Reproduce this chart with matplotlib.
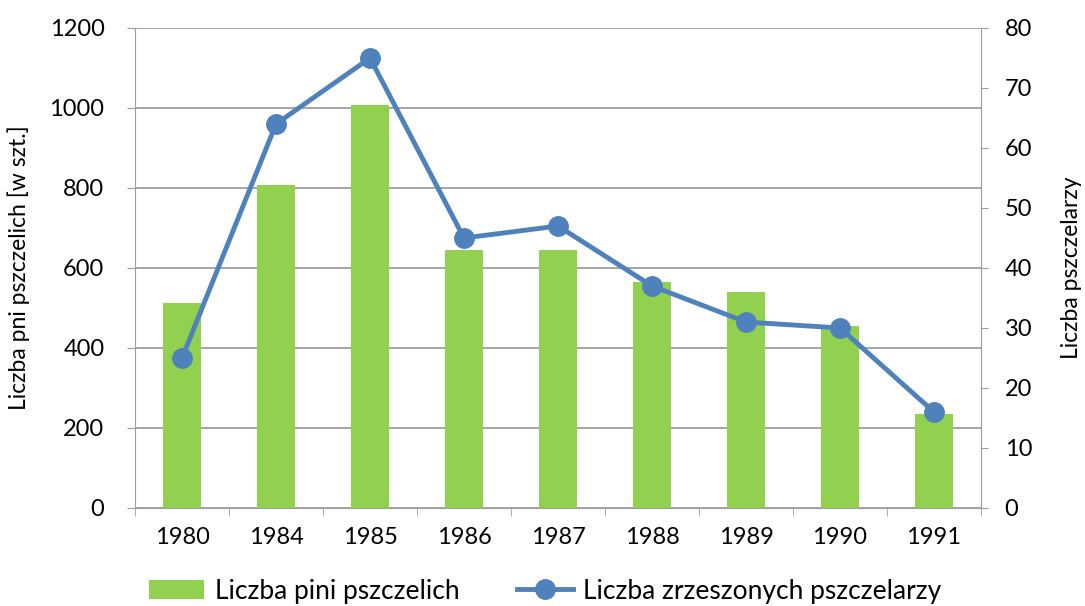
import matplotlib
matplotlib.use("Agg")
import matplotlib.pyplot as plt
from matplotlib.lines import Line2D
from matplotlib.patches import Patch

years = ["1980", "1984", "1985", "1986", "1987", "1988", "1989", "1990", "1991"]
hives = [512, 807, 1008, 646, 646, 564, 539, 455, 235]
beekeepers = [25, 64, 75, 45, 47, 37, 31, 30, 16]

plt.rcParams['font.family'] = ['Lato', 'DejaVu Sans']

W, H = 1085, 606
fig = plt.figure(figsize=(W/100, H/100), dpi=100)
ax = fig.add_axes([135/W, 1-508/H, (981-135)/W, (508-28)/H])
ax2 = ax.twinx()

green = "#92D050"
blue = "#4F81BD"
grid = "#9E9E9E"

x = list(range(len(years)))
ax.bar(x, hives, width=0.4, color=green, zorder=2)
ax.set_ylim(0, 1200)
ax.set_yticks(range(0, 1201, 200))
ax.set_xlim(-0.5, len(years)-0.5)
ax.set_xticks(x)
ax.set_xticklabels(years)
ax.set_xticks([i + 0.5 for i in range(-1, len(years))], minor=True)
ax.tick_params(axis='x', which='major', length=0, pad=14, labelsize=17)
ax.tick_params(axis='x', which='minor', length=6, color=grid, direction='out')
ax.tick_params(axis='y', length=6, color=grid, pad=16, labelsize=17)
ax.yaxis.grid(True, color=grid, linewidth=1.3, zorder=0)
ax.set_axisbelow(True)
for s in ['top', 'right']:
    ax.spines[s].set_visible(False)
ax.spines['left'].set_color(grid)
ax.spines['bottom'].set_color(grid)
ax.set_ylabel("Liczba pni pszczelich [w szt.]", fontsize=16.5, labelpad=14)

ax2.plot(x, beekeepers, color=blue, linewidth=3.5, marker='o', markersize=14, zorder=3)
ax2.set_ylim(0, 80)
ax2.set_yticks(range(0, 81, 10))
ax2.tick_params(axis='y', length=5, color=grid, pad=12, labelsize=17)
for s in ['top', 'left', 'bottom']:
    ax2.spines[s].set_visible(False)
ax2.spines['right'].set_color(grid)
ax2.set_ylabel("Liczba pszczelarzy", fontsize=16.5, labelpad=21)

handles = [Patch(facecolor=green, edgecolor='none'),
           Line2D([0], [0], color=blue, linewidth=3.5, marker='o', markersize=14)]
fig.legend(handles, ["Liczba pini pszczelich", "Liczba zrzeszonych pszczelarzy"],
           loc='center', bbox_to_anchor=(545/W, 1-591/H), ncol=2, frameon=False,
           fontsize=19, handlelength=2.1, columnspacing=2.2, handletextpad=0.4)

fig.savefig("out.png", dpi=100)
